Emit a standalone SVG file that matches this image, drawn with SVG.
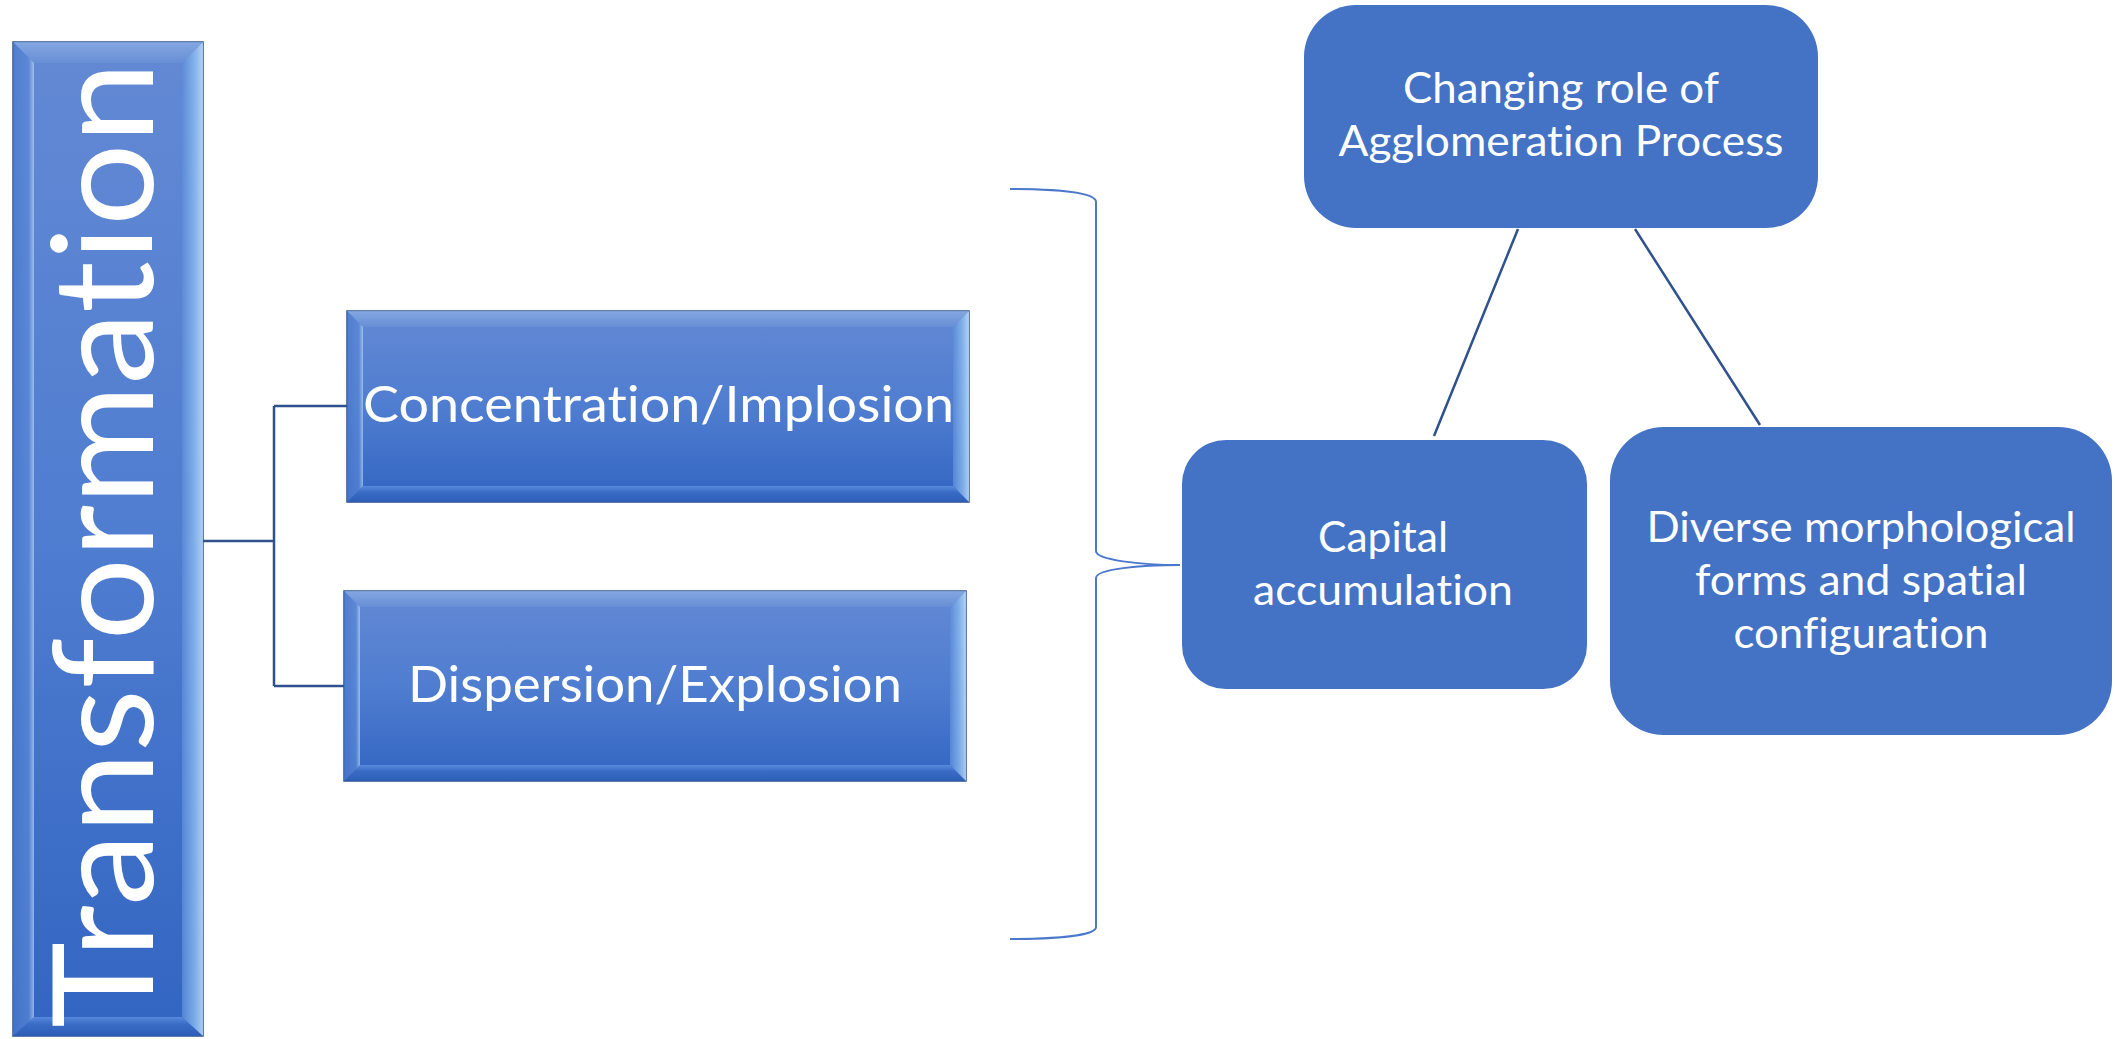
<svg xmlns="http://www.w3.org/2000/svg" width="2115" height="1039" viewBox="0 0 2115 1039">
<defs>
<linearGradient id="gBody" x1="0" y1="0" x2="0" y2="1">
<stop offset="0" stop-color="#6389d4"/>
<stop offset="0.5" stop-color="#4f7dd0"/>
<stop offset="1" stop-color="#3265c2"/>
</linearGradient>
<linearGradient id="gRight" x1="0" y1="0" x2="1" y2="0">
<stop offset="0" stop-color="#5c8bd8"/>
<stop offset="0.6" stop-color="#8cbcf0"/>
<stop offset="1" stop-color="#c6e4ff"/>
</linearGradient>
<linearGradient id="gLeft" x1="0" y1="0" x2="1" y2="0">
<stop offset="0" stop-color="#4a78cc"/>
<stop offset="0.75" stop-color="#5a88d6"/>
<stop offset="1" stop-color="#b8d8f8"/>
</linearGradient>
<linearGradient id="gTop" x1="0" y1="0" x2="0" y2="1">
<stop offset="0" stop-color="#8fb1e6"/>
<stop offset="1" stop-color="#6a90d6"/>
</linearGradient>
<linearGradient id="gBot" x1="0" y1="0" x2="0" y2="1">
<stop offset="0" stop-color="#5d8fe0"/>
<stop offset="0.4" stop-color="#3a6cc6"/>
<stop offset="1" stop-color="#2d5cb4"/>
</linearGradient>
</defs>
<style>
.body{fill:url(#gBody);stroke:#2f528f;stroke-width:1.5}
.btop{fill:url(#gTop);opacity:0.75}
.bbot{fill:url(#gBot);opacity:0.85}
.bleft{fill:url(#gLeft);opacity:0.7}
.bright{fill:url(#gRight);opacity:0.8}
.rbox{fill:#4472c4}
.t{font-family:Lato,"Open Sans","Liberation Sans",sans-serif;fill:#ffffff;text-anchor:middle;font-variant-ligatures:none;font-feature-settings:"liga" 0,"dlig" 0}
.big{font-size:140px}
.mid{font-size:51px}
.sm{font-size:43px}
.conn{fill:none;stroke:#2f528f;stroke-width:2.5}
.brace{fill:none;stroke:#4a78cc;stroke-width:2}
</style>
<rect width="2115" height="1039" fill="#ffffff"/>

<g id="connectors">
<path class="conn" d="M203,541 H274 M274,406 V686 M274,406 H347 M274,686 H344"/>
<path class="brace" d="M1010,189 C1060,189 1096,193 1096,202 V551 C1096,560 1140,565 1180,565 C1140,565 1096,569 1096,578 V927 C1096,935 1060,939 1010,939"/>
<path class="conn" d="M1518,229 L1434,436 M1635,229 L1760,425"/>
</g>

<g id="node-transformation">
<rect class="body" x="13" y="42" width="190" height="994"/>
<polygon class="btop" points="13,42 203,42 182,63 34,63"/>
<polygon class="bbot" points="13,1036 203,1036 182,1017 34,1017"/>
<polygon class="bleft" points="13,42 34,63 34,1017 13,1036" opacity="0.35"/>
<polygon class="bright" points="203,42 182,63 182,1017 203,1036" opacity="0.35"/>
<text class="t big" x="153" y="545" transform="rotate(-90 153 545)" textLength="966" lengthAdjust="spacingAndGlyphs">Transformation</text>
</g>

<g id="node-concentration">
<rect class="body" x="347" y="311" width="622" height="191"/>
<polygon class="btop" points="347,311 969,311 953,327 363,327"/>
<polygon class="bbot" points="347,502 969,502 953,486 363,486"/>
<polygon class="bleft" points="347,311 363,327 363,486 347,502"/>
<polygon class="bright" points="969,311 953,327 953,486 969,502"/>
<text class="t mid" x="658.5" y="422" textLength="591" lengthAdjust="spacingAndGlyphs">Concentration/Implosion</text>
</g>

<g id="node-dispersion">
<rect class="body" x="344" y="591" width="622" height="190"/>
<polygon class="btop" points="344,591 966,591 950,607 360,607"/>
<polygon class="bbot" points="344,781 966,781 950,765 360,765"/>
<polygon class="bleft" points="344,591 360,607 360,765 344,781"/>
<polygon class="bright" points="966,591 950,607 950,765 966,781"/>
<text class="t mid" x="655" y="702" textLength="494" lengthAdjust="spacingAndGlyphs">Dispersion/Explosion</text>
</g>

<g id="node-changing">
<rect class="rbox" x="1304" y="5" width="514" height="223" rx="52" ry="52"/>
<text class="t sm" x="1561" y="103" textLength="316" lengthAdjust="spacingAndGlyphs">Changing role of</text>
<text class="t sm" x="1561" y="156" textLength="445" lengthAdjust="spacingAndGlyphs">Agglomeration Process</text>
</g>

<g id="node-capital">
<rect class="rbox" x="1182" y="440" width="405" height="249" rx="44" ry="44"/>
<text class="t sm" x="1383" y="552" textLength="130" lengthAdjust="spacingAndGlyphs">Capital</text>
<text class="t sm" x="1383" y="605" textLength="260" lengthAdjust="spacingAndGlyphs">accumulation</text>
</g>

<g id="node-diverse">
<rect class="rbox" x="1610" y="427" width="502" height="308" rx="54" ry="54"/>
<text class="t sm" x="1861" y="542" textLength="429" lengthAdjust="spacingAndGlyphs">Diverse morphological</text>
<text class="t sm" x="1861" y="595" textLength="332" lengthAdjust="spacingAndGlyphs">forms and spatial</text>
<text class="t sm" x="1861" y="648" textLength="255" lengthAdjust="spacingAndGlyphs">configuration</text>
</g>
</svg>
